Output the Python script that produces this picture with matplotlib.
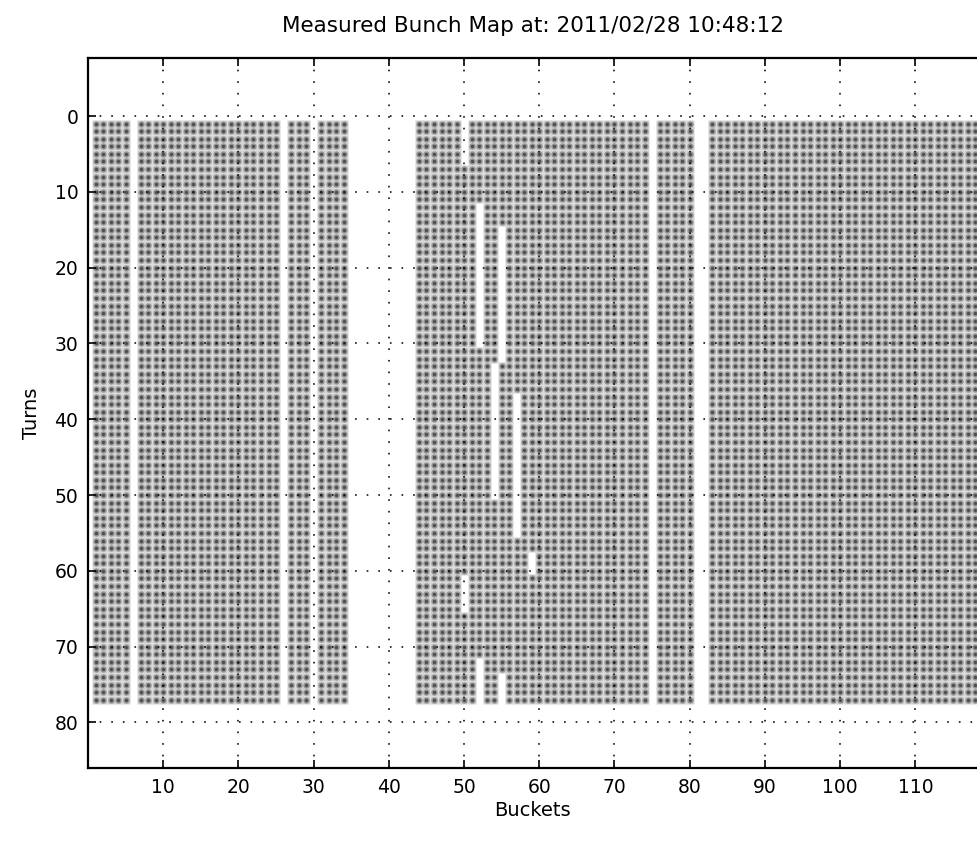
import numpy as np
import matplotlib
matplotlib.use("Agg")
import matplotlib.pyplot as plt

# bunch map data: which bucket was filled on which turn
buckets = np.arange(1, 121)
turns = np.arange(1, 78)
empty_buckets = [6, 26, 30, 35, 36, 37, 38, 39, 40, 41, 42, 43, 75, 81, 82]
# (bucket, first turn, last turn) stretches with no bunch
missing_runs = [(50, 1, 6), (50, 61, 65), (52, 12, 30), (55, 15, 32),
                (54, 33, 50), (57, 37, 55), (59, 58, 60), (52, 72, 77),
                (55, 74, 77)]

title = "Measured Bunch Map at: 2011/02/28 10:48:12"
xticks = [10, 20, 30, 40, 50, 60, 70, 80, 90, 100, 110]
yticks = [0, 10, 20, 30, 40, 50, 60, 70, 80]

filled = np.ones((len(turns), len(buckets)), dtype=bool)
for b in empty_buckets:
    filled[:, buckets == b] = False
for b, t0, t1 in missing_runs:
    rows = (turns >= t0) & (turns <= t1)
    filled[np.ix_(rows, buckets == b)] = False

bb, tt = np.meshgrid(buckets, turns)
xs = bb[filled]
ys = tt[filled]

plt.rcParams["font.family"] = ["DejaVu Sans"]

fig = plt.figure(figsize=(9.77, 8.47), dpi=100)
ax = fig.add_axes([0.0901, 0.0933, 0.9099, 0.8382])

# blurry looking dots: light halo, grey body, dark centre
ax.plot(xs, ys, linestyle="none", marker="s", markersize=5.4,
        markerfacecolor="#d2d2d2", markeredgecolor="none")
ax.plot(xs, ys, linestyle="none", marker="o", markersize=4.6,
        markerfacecolor="#959595", markeredgecolor="none")
ax.plot(xs, ys, linestyle="none", marker="o", markersize=2.4,
        markerfacecolor="#4e4e4e", markeredgecolor="none")

ax.set_xlim(0, 118.2)
ax.set_ylim(86, -7.65)
ax.set_xticks(xticks)
ax.set_yticks(yticks)

ax.set_axisbelow(False)
ax.grid(True, color="black", linestyle=(0, (1.1, 6.5)), linewidth=1.1)

ax.tick_params(direction="in", length=6, width=1.2, top=True, right=False,
               labelsize=13.5, pad=7)
for side in ["left", "top", "bottom"]:
    ax.spines[side].set_linewidth(1.6)
ax.spines["right"].set_visible(False)

ax.set_title(title, fontsize=15.5, pad=19)
ax.set_xlabel("Buckets", fontsize=14, labelpad=3)
ax.set_ylabel("Turns", fontsize=14, labelpad=10)

fig.savefig("out.png", dpi=100)
